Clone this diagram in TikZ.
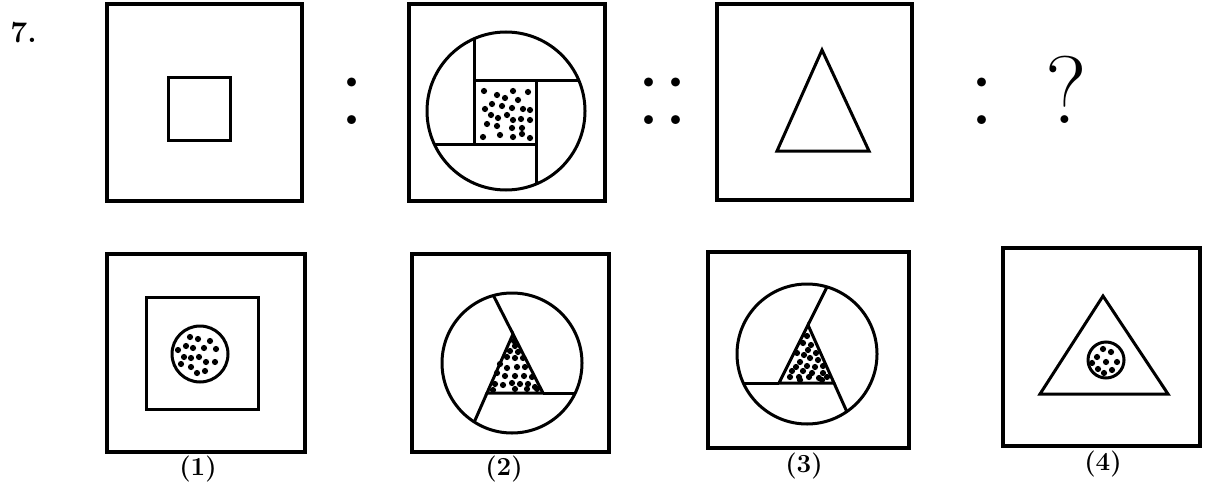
\documentclass[tikz,border=0pt]{standalone}
\tikzset{
  frame/.style={line width=1.6pt},
  fig/.style={line width=1.5pt},
  speck/.style={fill=black,draw=none},
  colon/.style={font=\fontsize{54}{56}\selectfont,inner sep=0pt,anchor=base},
  optlabel/.style={font=\fontsize{13}{15}\selectfont\bfseries,inner sep=0pt}
}
\begin{document}
\begin{tikzpicture}[x=0.5pt,y=-0.5pt,line join=miter]
\useasboundingbox (0,0) rectangle (1208,492);
% question number
\node[anchor=base west,inner sep=0pt,font=\fontsize{15}{17}\selectfont\bfseries] (qnum) at (10,43) {7.};
% top row
\draw[frame] (107,4) rectangle (302,201);
\draw[fig] (168,78) rectangle (230,140);
\node[colon] (sepa) at (352,125) {:};
\draw[frame] (409,4) rectangle (605,201);
\draw[fig] (506,111) circle (79);
\draw[fig] (474,81) rectangle (536,144);
\draw[fig] (474,144) -- (474,39);
\draw[fig] (474,81) -- (579,81);
\draw[fig] (536,81) -- (536,184);
\draw[fig] (536,144) -- (434,144);
\foreach \x/\y in {484/91,497/95,513/91,528/92,505/98,518/100,492/104,502/106,485/109,
  512/108,523/109,530/110,491/115,498/118,507/115,513/120,521/119,530/120,487/124,
  497/126,512/128,522/128,483/137,500/135,513/137,522/134,530/138}
  \fill[speck] (\x,\y) circle (3.1);
\node[colon] (sepb) at (662,125) {::};
\draw[frame] (717,4) rectangle (912,200);
\draw[fig] (822,50) -- (777,151) -- (869,151) -- cycle;
\node[colon] (sepc) at (982,125) {:};
\node[anchor=base,inner sep=0pt,font=\fontsize{48}{50}\selectfont] (ask) at (1066,123) {?};
% bottom row, option 1
\draw[frame] (107,254) rectangle (305,452);
\draw[fig] (146,297) rectangle (258,409);
\draw[fig] (200,354) circle (28);
\foreach \x/\y in {190/337,198/339,210/341,186/346,193/348,204/348,216/349,178/350,
  184/357,191/358,199/357,206/362,215/362,181/364,191/367,205/371,197/373}
  \fill[speck] (\x,\y) circle (3.1);
\node[optlabel] (lab1) at (198,469) {(1)};
% option 2
\draw[frame] (412,254) rectangle (609,452);
\draw[fig] (512,363) circle (70);
\draw[fig] (513,334) -- (487,393) -- (543,393) -- cycle;
\draw[fig] (513,334) -- (493.4,295.5);
\draw[fig] (543,393) -- (575.2,393);
\draw[fig] (487,393) -- (474.3,421.9);
\foreach \x/\y in {514/341,515/346,510/351,518/352,507/357,515/358,523/358,500/364,
  507/368,517/367,525/367,497/373,505/376,515/376,524/376,532/377,495/384,503/385,
  512/383,520/384,528/384,535/387,493/390,515/389,527/389,537/389}
  \fill[speck] (\x,\y) circle (3.1);
\node[optlabel] (lab2) at (504,469) {(2)};
% option 3
\draw[frame] (708,252) rectangle (909,448);
\draw[fig] (807,354) circle (70);
\draw[fig] (808,325) -- (779,383) -- (834,383) -- cycle;
\draw[fig] (808,325) -- (827,286.9);
\draw[fig] (779,383) -- (743.3,383);
\draw[fig] (834,383) -- (846.8,411.6);
\foreach \x/\y in {807/336,803/343,811/345,808/350,797/353,804/355,816/353,810/358,
  818/360,800/362,796/367,807/366,815/367,823/366,792/371,803/371,812/373,823/373,
  790/377,799/377,809/377,819/378,827/377,800/380,822/380}
  \fill[speck] (\x,\y) circle (3.1);
\node[optlabel] (lab3) at (804,466) {(3)};
% option 4
\draw[frame] (1003,248) rectangle (1200,446);
\draw[fig] (1103,296) -- (1040,394) -- (1168,394) -- cycle;
\draw[fig] (1106,360) circle (18);
\foreach \x/\y in {1103/349,1111/352,1097/357,1106/362,1117/362,1092/363,1098/369,
  1104/373,1112/370}
  \fill[speck] (\x,\y) circle (3.1);
\node[optlabel] (lab4) at (1103,464) {(4)};
\end{tikzpicture}
\end{document}
